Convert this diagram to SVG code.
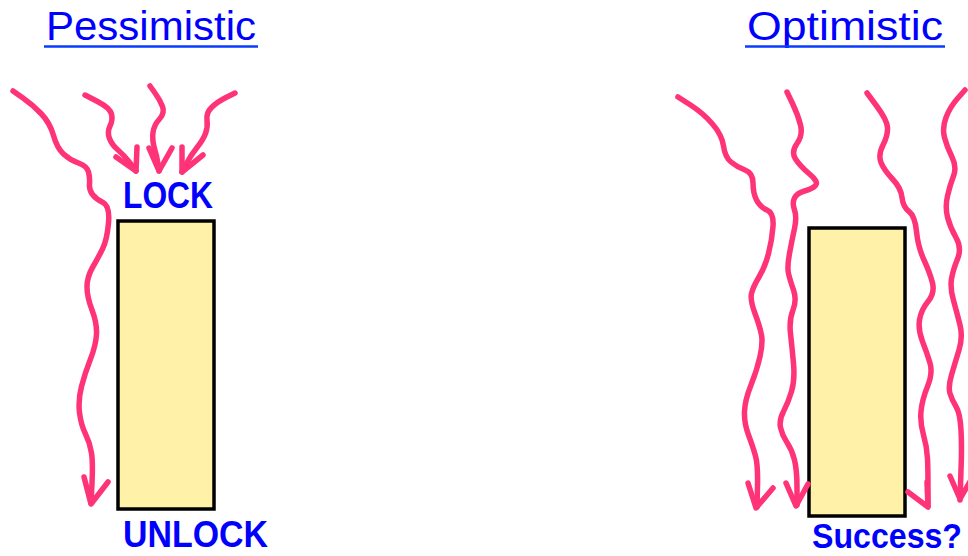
<svg xmlns="http://www.w3.org/2000/svg" width="968" height="556" viewBox="0 0 968 556">
<style>
.title{font-family:"Liberation Sans",Arial,sans-serif;font-size:40px;fill:#0000FF}
.lbl{font-family:"Liberation Sans",Arial,sans-serif;font-size:36px;font-weight:bold;fill:#0000FF}
.ul{stroke:#0A3CFF;stroke-width:2.5}
.box{fill:#FFF2A8;stroke:#000;stroke-width:3.5}
.w{fill:none;stroke:#FF3377;stroke-width:5.5;stroke-linecap:round;stroke-linejoin:round}
</style>
<rect width="968" height="556" fill="#fff"/>
<g id="title-pessimistic">
<text class="title" x="46" y="40" textLength="210" lengthAdjust="spacingAndGlyphs">Pessimistic</text>
<line class="ul" x1="44" y1="46.5" x2="258" y2="46.5"/>
</g>
<g id="title-optimistic">
<text class="title" x="747" y="40" textLength="196" lengthAdjust="spacingAndGlyphs">Optimistic</text>
<line class="ul" x1="745" y1="46.5" x2="945" y2="46.5"/>
</g>
<g id="box-pessimistic">
<rect class="box" x="118" y="221" width="96" height="288"/>
<text class="lbl" x="123" y="208" textLength="90" lengthAdjust="spacingAndGlyphs">LOCK</text>
<text class="lbl" x="123" y="547" textLength="145" lengthAdjust="spacingAndGlyphs">UNLOCK</text>
</g>
<g id="box-optimistic">
<rect class="box" x="809" y="228" width="96" height="288"/>
<text class="lbl" x="812" y="548" style="font-size:35px" textLength="150" lengthAdjust="spacingAndGlyphs">Success?</text>
</g>
<g id="connectors">
<path class="w" d="M13,91 L23,98 Q33,105 41.5,114 Q50,123 53.5,135.5 Q57,148 63.5,154 Q70,160 78.5,163 Q87,166 88.5,172 Q90,178 89.5,184 Q89,190 92.5,194.5 Q96,199 103,202.5 Q110,206 108.5,223 Q107,240 102.5,249 Q98,258 92.5,267.5 Q87,277 87,287 Q87,297 92,310 Q97,323 96.5,334 Q96,345 90.5,359 Q85,373 81.5,386.5 Q78,400 79.5,412.5 Q81,425 85.5,434 Q90,443 91.5,453 Q93,463 92,483 L91,503"/>
<path class="w" d="M84,477 L91,504 L108,482"/>
<path class="w" d="M85,95 L97.5,101.5 Q110,108 111.5,114 Q113,120 110,126 Q107,132 109.5,138.5 Q112,145 118,150 Q124,155 130,163 L136,171"/>
<path class="w" d="M116,157 L136,171 L137,147"/>
<path class="w" d="M150,86 L155,93 Q160,100 162.5,106.5 Q165,113 159.5,119 Q154,125 153,132.5 Q152,140 154.5,148.5 Q157,157 158,164 L159,171"/>
<path class="w" d="M149,148 L159,171 L172,148"/>
<path class="w" d="M235,93 L226,97.5 Q217,102 211.5,107.5 Q206,113 207,120 Q208,127 205.5,133.5 Q203,140 197,147.5 Q191,155 186.5,163.5 L182,172"/>
<path class="w" d="M182,147 L182,172 L203,155"/>
<path class="w" d="M678,97 L690.5,105 Q703,113 712.5,124 Q722,135 723.5,146 Q725,157 731,162 Q737,167 745,170 Q753,173 753,183 Q753,193 756.5,200 Q760,207 767,210 Q774,213 773,226.5 Q772,240 768.5,253.5 Q765,267 759,277 Q753,287 751.5,293.5 Q750,300 755,313.5 Q760,327 761.5,335 Q763,343 760,356.5 Q757,370 751,385 Q745,400 744.5,411.5 Q744,423 748.5,435 Q753,447 755.5,456 Q758,465 757.5,486 L757,507"/>
<path class="w" d="M748,483 L756,508 L773,488"/>
<path class="w" d="M787,92 L792.5,103.5 Q798,115 800.5,125 Q803,135 797,143.5 Q791,152 795.5,159 Q800,166 809.5,174 Q819,182 815.5,185.5 Q812,189 804.5,191 Q797,193 794.5,198 Q792,203 794.5,210 Q797,217 794.5,228.5 Q792,240 789.5,253.5 Q787,267 788.5,273.5 Q790,280 793.5,290 Q797,300 793,310 Q789,320 790.5,333.5 Q792,347 793.5,363.5 Q795,380 791.5,391.5 Q788,403 783.5,411.5 Q779,420 780.5,427.5 Q782,435 787,442.5 Q792,450 794.5,460 Q797,470 797,487.5 L797,505"/>
<path class="w" d="M786,483 L796,506 L808,484"/>
<path class="w" d="M867,93 L877,106.5 Q887,120 887.5,127.5 Q888,135 883,145 Q878,155 881,162.5 Q884,170 892.5,179 Q901,188 902,197.5 Q903,207 909,211.5 Q915,216 916.5,231.5 Q918,247 924,260 Q930,273 932.5,283 Q935,293 928,301.5 Q921,310 919.5,320 Q918,330 922.5,341.5 Q927,353 930,363 Q933,373 927.5,386.5 Q922,400 921,411.5 Q920,423 923.5,435 Q927,447 927.5,458.5 Q928,470 928,488 L928,506"/>
<path class="w" d="M908,492 L928,507 L927,482"/>
<path class="w" d="M965,90 L957.5,98.5 Q950,107 946,117.5 Q942,128 944.5,137.5 Q947,147 952,157 Q957,167 953.5,176 Q950,185 947.5,196 Q945,207 947.5,217 Q950,227 956,237.5 Q962,248 957.5,259 Q953,270 951.5,279 Q950,288 953.5,300.5 Q957,313 960,325 Q963,337 959,350 Q955,363 951.5,375 Q948,387 950,393.5 Q952,400 956,406.5 Q960,413 961,430 Q962,447 961,470 L960,500"/>
<path class="w" d="M950,476 L960,499 L972,478"/>
</g>
</svg>
